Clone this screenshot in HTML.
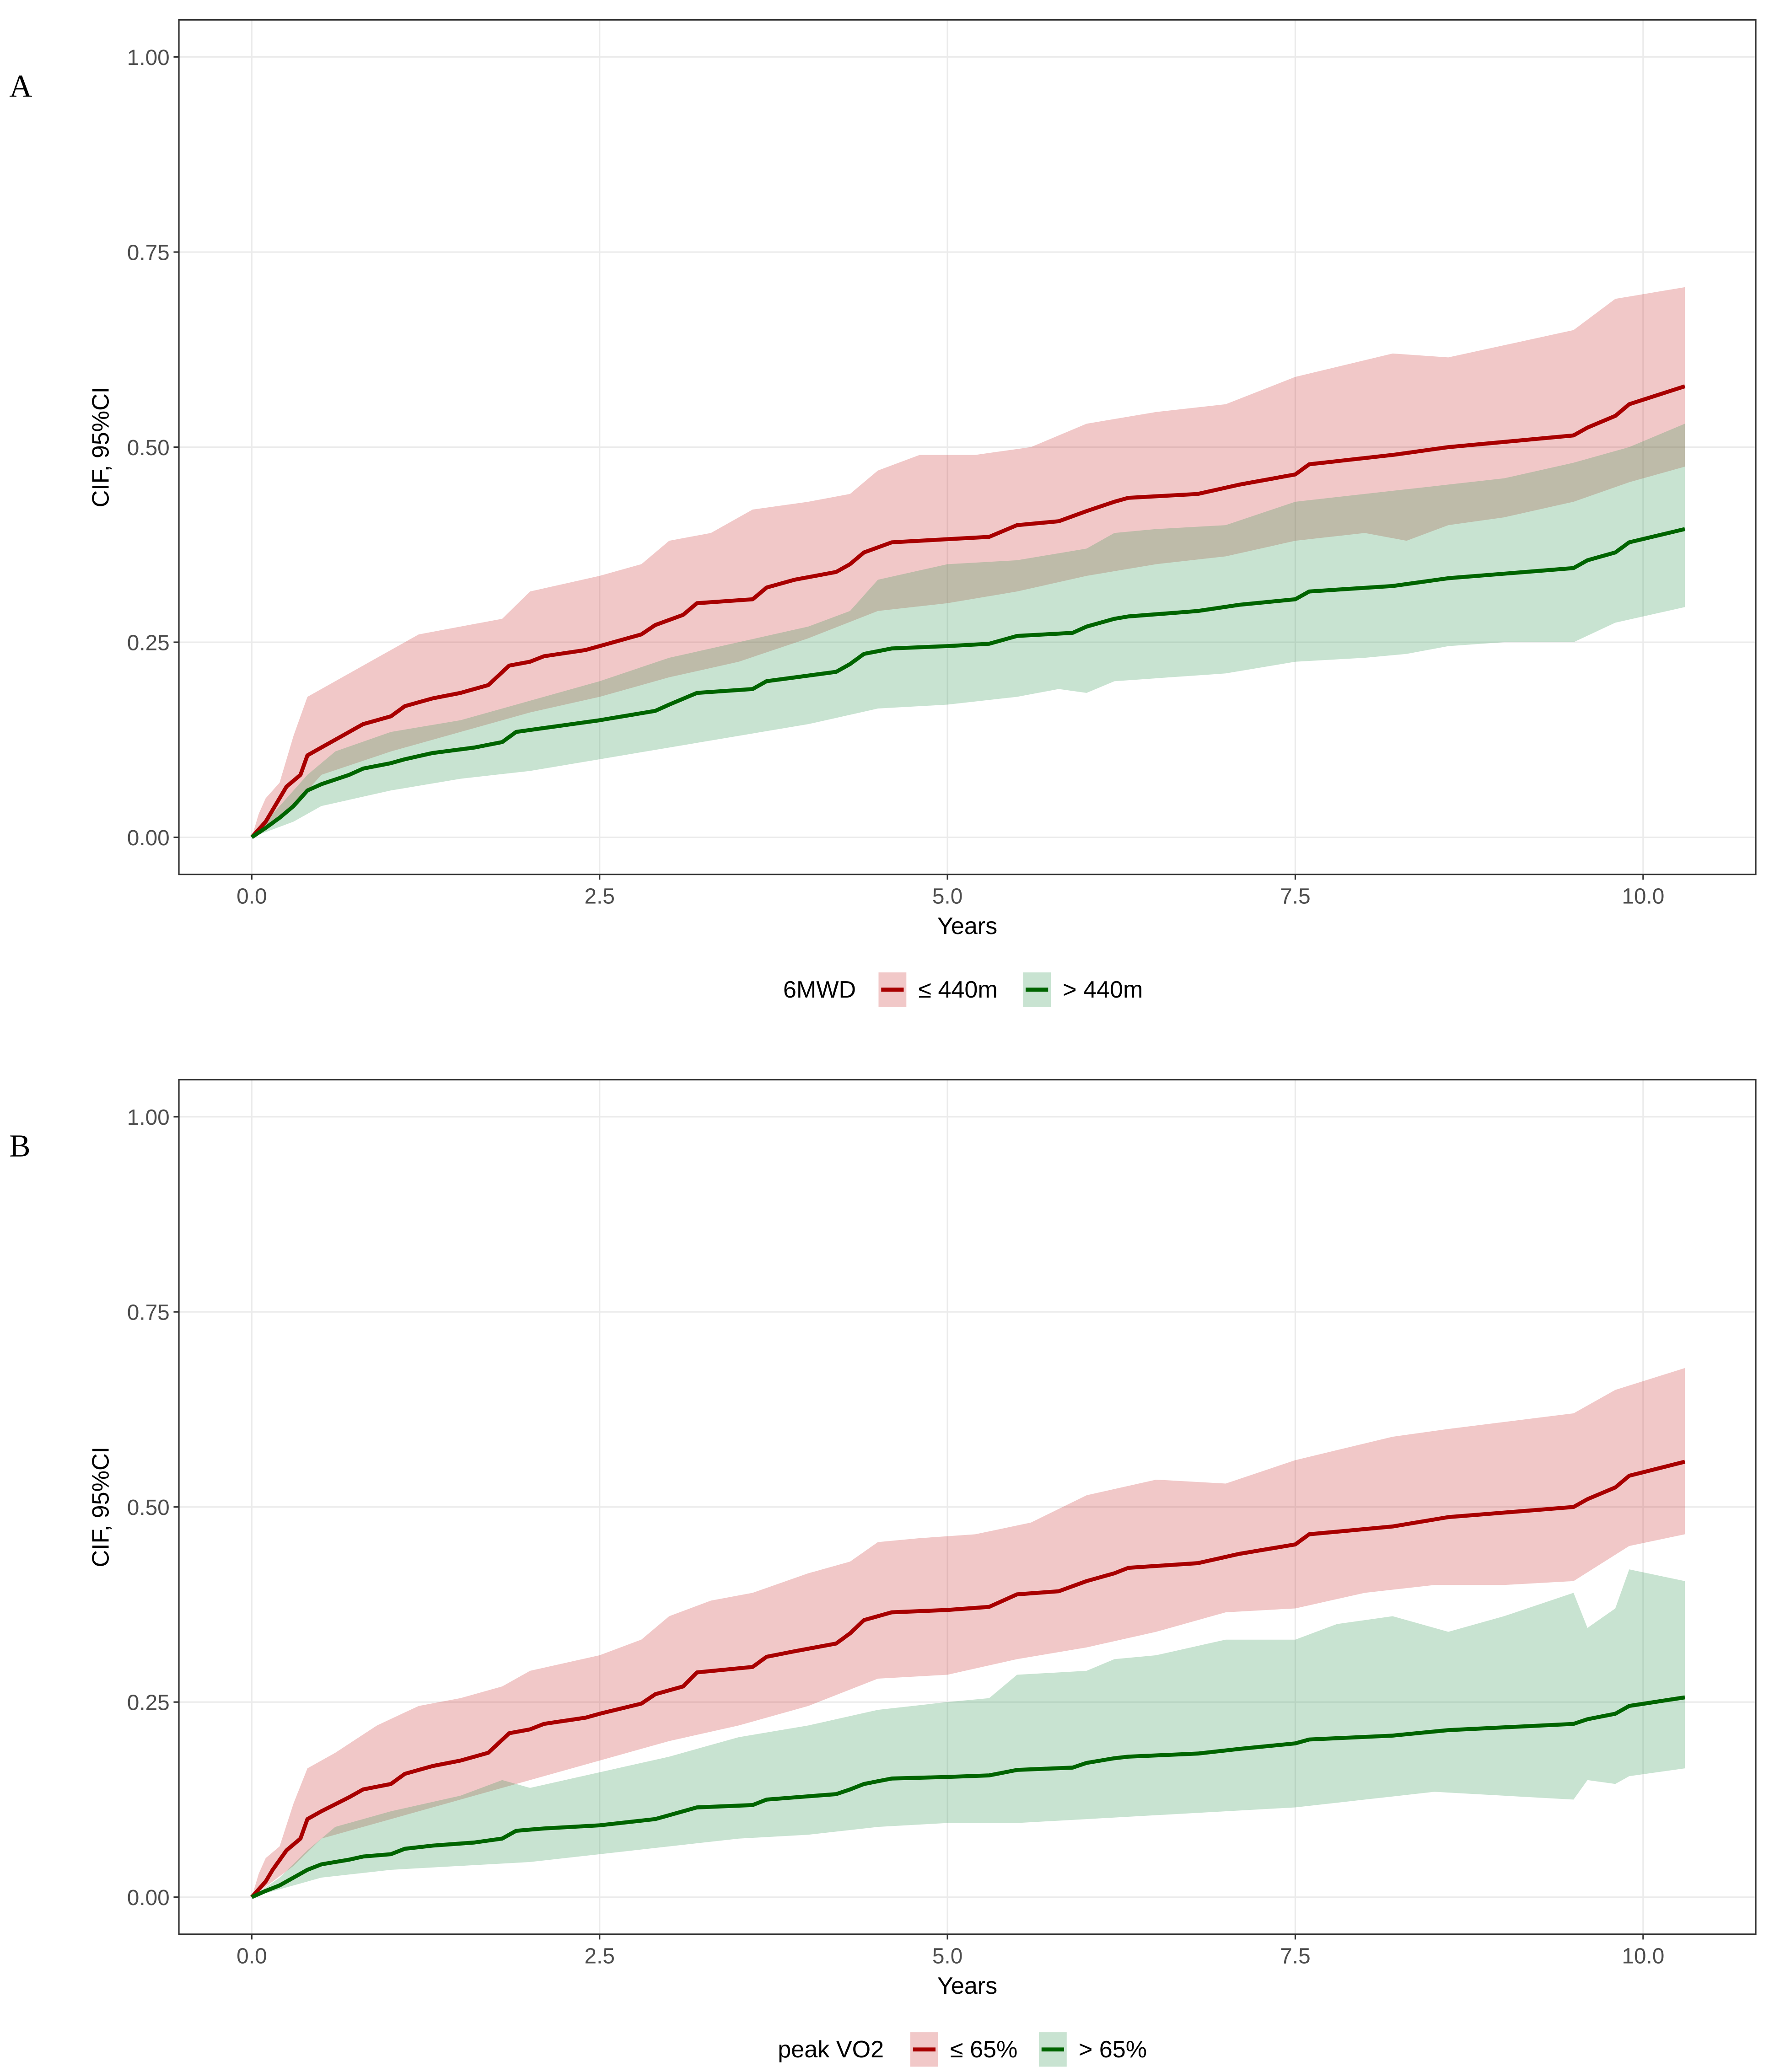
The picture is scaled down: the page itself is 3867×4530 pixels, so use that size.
<!DOCTYPE html>
<html><head><meta charset="utf-8"><style>
html,body{margin:0;padding:0;background:#fff}
svg{display:block}
text{font-family:"Liberation Sans",sans-serif}
</style></head><body>
<svg id="chart" width="3867" height="4530" viewBox="0 0 1335 1564" preserveAspectRatio="none" xmlns="http://www.w3.org/2000/svg"></svg>
<script>
// ---- data (years, CIF) ----
const xTicks = [0, 2.5, 5, 7.5, 10];
const xTickLabels = ["0.0", "2.5", "5.0", "7.5", "10.0"];
const yTicks = [0, 0.25, 0.5, 0.75, 1];
const yTickLabels = ["0.00", "0.25", "0.50", "0.75", "1.00"];

const aRedT = [0,0.1,0.15,0.25,0.35,0.4,0.5,0.7,0.8,1.0,1.1,1.3,1.5,1.7,1.85,2.0,2.1,2.4,2.5,2.8,2.9,3.1,3.2,3.6,3.7,3.9,4.2,4.3,4.4,4.6,5.0,5.3,5.5,5.8,6.0,6.2,6.3,6.8,7.1,7.5,7.6,8.2,8.6,9.5,9.6,9.8,9.9,10.3];
const aRedV = [0,0.02,0.035,0.065,0.08,0.105,0.115,0.135,0.145,0.155,0.168,0.178,0.185,0.195,0.22,0.225,0.232,0.24,0.245,0.26,0.272,0.285,0.3,0.305,0.32,0.33,0.34,0.35,0.365,0.378,0.382,0.385,0.4,0.405,0.418,0.43,0.435,0.44,0.452,0.465,0.478,0.49,0.5,0.515,0.525,0.54,0.555,0.578];
const aRedUpT = [0,0.05,0.1,0.2,0.3,0.4,0.6,0.9,1.2,1.5,1.8,2.0,2.5,2.8,3.0,3.3,3.6,4.0,4.3,4.5,4.8,5.2,5.6,6.0,6.5,7.0,7.5,8.2,8.6,9.5,9.8,10.3];
const aRedUpV = [0,0.03,0.05,0.07,0.13,0.18,0.2,0.23,0.26,0.27,0.28,0.315,0.335,0.35,0.38,0.39,0.42,0.43,0.44,0.47,0.49,0.49,0.5,0.53,0.545,0.555,0.59,0.62,0.615,0.65,0.69,0.705];
const aRedLoT = [0,0.3,0.5,1.0,1.5,2.0,2.5,3.0,3.5,4.0,4.5,5.0,5.5,6.0,6.5,7.0,7.5,8.0,8.3,8.6,9.0,9.5,9.9,10.3];
const aRedLoV = [0,0.04,0.08,0.11,0.135,0.16,0.18,0.205,0.225,0.255,0.29,0.3,0.315,0.335,0.35,0.36,0.38,0.39,0.38,0.4,0.41,0.43,0.455,0.475];
const aGrnT = [0,0.1,0.2,0.3,0.4,0.5,0.7,0.8,1.0,1.1,1.3,1.6,1.8,1.9,2.1,2.5,2.9,3.0,3.2,3.6,3.7,4.2,4.3,4.4,4.6,5.0,5.3,5.5,5.9,6.0,6.2,6.3,6.8,7.1,7.5,7.6,8.2,8.6,9.5,9.6,9.8,9.9,10.3];
const aGrnV = [0,0.012,0.025,0.04,0.06,0.068,0.08,0.088,0.095,0.1,0.108,0.115,0.122,0.135,0.14,0.15,0.162,0.17,0.185,0.19,0.2,0.212,0.222,0.235,0.242,0.245,0.248,0.258,0.262,0.27,0.28,0.283,0.29,0.298,0.305,0.315,0.322,0.332,0.345,0.355,0.365,0.378,0.395];
const aGrnUpT = [0,0.2,0.4,0.6,1.0,1.5,2.0,2.5,3.0,3.5,4.0,4.3,4.5,5.0,5.5,6.0,6.2,6.5,7.0,7.5,8.0,8.5,9.0,9.5,9.9,10.3];
const aGrnUpV = [0,0.04,0.08,0.11,0.135,0.15,0.175,0.2,0.23,0.25,0.27,0.29,0.33,0.35,0.355,0.37,0.39,0.395,0.4,0.43,0.44,0.45,0.46,0.48,0.5,0.53];
const aGrnLoT = [0,0.3,0.5,1.0,1.5,2.0,2.5,3.0,3.5,4.0,4.5,5.0,5.5,5.8,6.0,6.2,7.0,7.5,8.0,8.3,8.6,9.0,9.5,9.8,10.3];
const aGrnLoV = [0,0.02,0.04,0.06,0.075,0.085,0.1,0.115,0.13,0.145,0.165,0.17,0.18,0.19,0.185,0.2,0.21,0.225,0.23,0.235,0.245,0.25,0.25,0.275,0.295];

const bRedT = aRedT;
const bRedV = [0,0.02,0.035,0.06,0.075,0.1,0.11,0.128,0.138,0.145,0.158,0.168,0.175,0.185,0.21,0.215,0.222,0.23,0.235,0.248,0.26,0.27,0.288,0.295,0.308,0.315,0.325,0.338,0.355,0.365,0.368,0.372,0.388,0.392,0.405,0.415,0.422,0.428,0.44,0.452,0.465,0.475,0.487,0.5,0.51,0.525,0.54,0.558];
const bRedUpT = aRedUpT;
const bRedUpV = [0,0.03,0.05,0.065,0.12,0.165,0.185,0.22,0.245,0.255,0.27,0.29,0.31,0.33,0.36,0.38,0.39,0.415,0.43,0.455,0.46,0.465,0.48,0.515,0.535,0.53,0.56,0.59,0.6,0.62,0.65,0.678];
const bRedLoT = [0,0.3,0.5,1.0,1.5,2.0,2.5,3.0,3.5,4.0,4.5,5.0,5.5,6.0,6.5,7.0,7.5,8.0,8.5,9.0,9.5,9.9,10.3];
const bRedLoV = [0,0.04,0.075,0.1,0.125,0.15,0.175,0.2,0.22,0.245,0.28,0.285,0.305,0.32,0.34,0.365,0.37,0.39,0.4,0.4,0.405,0.45,0.465];
const bGrnT = aGrnT;
const bGrnV = [0,0.008,0.015,0.025,0.035,0.042,0.048,0.052,0.055,0.062,0.066,0.07,0.075,0.085,0.088,0.092,0.1,0.105,0.115,0.118,0.125,0.132,0.138,0.145,0.152,0.154,0.156,0.163,0.166,0.172,0.178,0.18,0.184,0.19,0.197,0.202,0.207,0.214,0.222,0.228,0.235,0.245,0.256];
const bGrnUpT = [0,0.2,0.4,0.6,1.0,1.5,1.8,2.0,2.5,3.0,3.5,4.0,4.5,5.0,5.3,5.5,6.0,6.2,6.5,7.0,7.5,7.8,8.2,8.6,9.0,9.5,9.6,9.8,9.9,10.3];
const bGrnUpV = [0,0.025,0.06,0.09,0.11,0.13,0.15,0.14,0.16,0.18,0.205,0.22,0.24,0.25,0.255,0.285,0.29,0.305,0.31,0.33,0.33,0.35,0.36,0.34,0.36,0.39,0.345,0.37,0.42,0.405];
const bGrnLoT = [0,0.3,0.5,1.0,1.5,2.0,2.5,3.0,3.5,4.0,4.5,5.0,5.5,6.0,6.5,7.0,7.5,8.0,8.5,9.0,9.5,9.6,9.8,9.9,10.3];
const bGrnLoV = [0,0.015,0.025,0.035,0.04,0.045,0.055,0.065,0.075,0.08,0.09,0.095,0.095,0.1,0.105,0.11,0.115,0.125,0.135,0.13,0.125,0.15,0.145,0.155,0.165];

const NS = "http://www.w3.org/2000/svg";
const svg = document.getElementById('chart');
function mk(tag, attrs, parent) {
  const e = document.createElementNS(NS, tag);
  for (const k in attrs) e.setAttribute(k, attrs[k]);
  (parent || svg).appendChild(e);
  return e;
}
const X0 = 190, X1 = 1240; // x=0 and x=10
function sx(v) { return X0 + (X1 - X0) * v / 10; }

function panel(p) {
  const g = mk('g', {});
  
  
  const top = p.top, bot = p.top + 645;
  const y1 = p.top + 28, y0 = p.top + 617;
  const sy = v => y0 - (y0 - y1) * v;
  const L = mk('text', {x: 7, y: p.top + 58, 'font-size': 24, fill: '#000', style: 'font-family:"Liberation Serif",serif'}, g);
  L.textContent = p.letter;
  
  
  yTicks.forEach(t => {
    const l = mk('line', {x1: 135, x2: 1325, y1: sy(t), y2: sy(t), stroke: '#ebebeb', 'stroke-width': 1.1}, g);
    
    
  });
  xTicks.forEach(t => {
    const l = mk('line', {x1: sx(t), x2: sx(t), y1: top, y2: bot, stroke: '#ebebeb', 'stroke-width': 1.1}, g);
    
    
  });
  function band(T1, V1, T2, V2, fill, name) {
    let d = 'M' + T1.map((t, i) => sx(t) + ',' + sy(V1[i])).join('L');
    for (let i = T2.length - 1; i >= 0; i--) d += 'L' + sx(T2[i]) + ',' + sy(V2[i]);
    const e = mk('path', {d: d + 'Z', fill: fill, 'fill-opacity': 0.27}, g);
    
    
  }
  function line(T, V, col, name) {
    const e = mk('polyline', {points: T.map((t, i) => sx(t) + ',' + sy(V[i])).join(' '), fill: 'none', stroke: col, 'stroke-width': 3, 'stroke-linejoin': 'round'}, g);
    
    
  }
  band(p.rUT, p.rUV, p.rLT, p.rLV, '#cc3333', 'ci-band-low-group');
  band(p.gUT, p.gUV, p.gLT, p.gLV, '#339955', 'ci-band-high-group');
  line(p.rT, p.rV, '#a80000', 'cif-line-low-group');
  line(p.gT, p.gV, '#006400', 'cif-line-high-group');
  const b = mk('rect', {x: 135, y: top, width: 1190, height: 645, fill: 'none', stroke: '#333', 'stroke-width': 1.1}, g);
  
  
  yTicks.forEach((t, i) => {
    const tk = mk('line', {x1: 131, x2: 135, y1: sy(t), y2: sy(t), stroke: '#333', 'stroke-width': 1.1}, g);
    
    
    const tx = mk('text', {x: 128, y: sy(t) + 6, 'font-size': 16.5, fill: '#4d4d4d', 'text-anchor': 'end'}, g);
    tx.textContent = yTickLabels[i];
    
    
  });
  xTicks.forEach((t, i) => {
    const tk = mk('line', {x1: sx(t), x2: sx(t), y1: bot, y2: bot + 4, stroke: '#333', 'stroke-width': 1.1}, g);
    
    
    const tx = mk('text', {x: sx(t), y: bot + 22, 'font-size': 16.5, fill: '#4d4d4d', 'text-anchor': 'middle'}, g);
    tx.textContent = xTickLabels[i];
    
    
  });
  const xt = mk('text', {x: 730, y: bot + 45, 'font-size': 18, fill: '#000', 'text-anchor': 'middle'}, g);
  xt.textContent = 'Years';
  
  
  const yc = (top + bot) / 2;
  const yt = mk('text', {x: 0, y: 0, 'font-size': 18, fill: '#000', 'text-anchor': 'middle', transform: 'translate(82,' + yc + ') rotate(-90)'}, g);
  yt.textContent = 'CIF, 95%CI';
  
  
  const ly = bot + 87;
  const lg = mk('g', {}, g);
  
  
  const lt = mk('text', {x: p.legX, y: ly + 6, 'font-size': 18, fill: '#000'}, lg);
  lt.textContent = p.legTitle;
  
  
  [[p.legK1, '#cc3333', '#a80000', p.legL1], [p.legK2, '#339955', '#006400', p.legL2]].forEach(([kx, f, c, lab], i) => {
    const k = mk('rect', {x: kx, y: ly - 13, width: 21, height: 26, fill: f, 'fill-opacity': 0.27}, lg);
    
    
    const kl = mk('line', {x1: kx + 2, x2: kx + 19, y1: ly, y2: ly, stroke: c, 'stroke-width': 3}, lg);
    
    
    const tx = mk('text', {x: kx + 30, y: ly + 6, 'font-size': 18, fill: '#000'}, lg);
    tx.textContent = lab;
    
    
  });
}
panel({name: 'panel-a-6mwd', letter: 'A', top: 15, rT: aRedT, rV: aRedV, rUT: aRedUpT, rUV: aRedUpV, rLT: aRedLoT, rLV: aRedLoV,
  gT: aGrnT, gV: aGrnV, gUT: aGrnUpT, gUV: aGrnUpV, gLT: aGrnLoT, gLV: aGrnLoV,
  legTitle: '6MWD', legX: 591, legK1: 663, legL1: '≤ 440m', legK2: 772, legL2: '> 440m'});
panel({name: 'panel-b-peak-vo2', letter: 'B', top: 815, rT: bRedT, rV: bRedV, rUT: bRedUpT, rUV: bRedUpV, rLT: bRedLoT, rLV: bRedLoV,
  gT: bGrnT, gV: bGrnV, gUT: bGrnUpT, gUV: bGrnUpV, gLT: bGrnLoT, gLV: bGrnLoV,
  legTitle: 'peak VO2', legX: 587, legK1: 687, legL1: '≤ 65%', legK2: 784, legL2: '> 65%'});
</script>
</body></html>
